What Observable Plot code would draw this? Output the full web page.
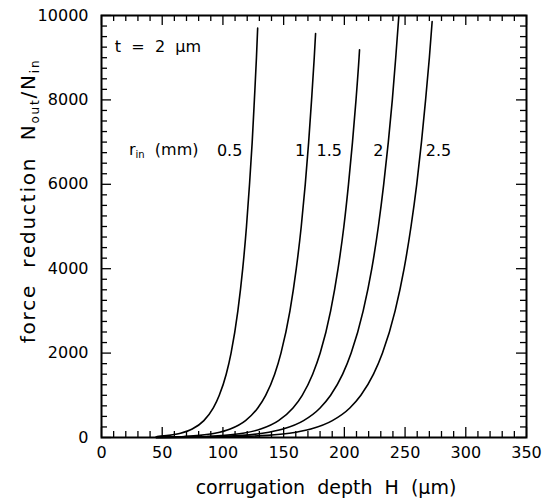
<!DOCTYPE html>
<html>
<head>
<meta charset="utf-8">
<script src="https://cdn.jsdelivr.net/npm/d3@7"></script>
<script src="https://cdn.jsdelivr.net/npm/@observablehq/plot@0.6"></script>
<style>
  body { margin: 0; background: #fff; }
  svg { font-family: "DejaVu Sans", sans-serif; }
</style>
</head>
<body>
<div id="chart"></div>
<script>
// Force reduction Nout/Nin vs corrugation depth H (µm), t = 2 µm, for r_in (mm)
const N_levels = [25, 50, 100, 200, 400, 700, 1000, 1500, 2000, 3000, 4000, 5000, 6000, 7000, 8000, 9000];

const H_05 = [45.8, 55.4, 65.1, 74.7, 84.3, 92.1, 97.0, 102.7, 106.7, 112.3, 116.3, 119.4, 121.9, 124.1, 125.9, 127.6, 128.6];
const N_05 = [25, 50, 100, 200, 400, 700, 1000, 1500, 2000, 3000, 4000, 5000, 6000, 7000, 8000, 9000, 9700];

const H_10 = [45, 51.5, 68.2, 80.8, 93.4, 106.0, 118.6, 128.7, 135.2, 142.6, 147.8, 155.2, 160.4, 164.5, 167.8, 170.6, 173.0, 175.2, 176.3];
const N_10 = [5, 10, 25, 50, 100, 200, 400, 700, 1000, 1500, 2000, 3000, 4000, 5000, 6000, 7000, 8000, 9000, 9573];

const H_15 = [45, 67.3, 86.8, 101.6, 116.3, 131.1, 145.8, 157.7, 165.3, 173.9, 180.1, 188.7, 194.8, 199.6, 203.4, 206.7, 209.6, 212.1, 212.5];
const N_15 = [3, 10, 25, 50, 100, 200, 400, 700, 1000, 1500, 2000, 3000, 4000, 5000, 6000, 7000, 8000, 9000, 9187];

const H_20 = [45, 76.4, 98.8, 115.7, 132.6, 149.5, 166.4, 180.0, 188.7, 198.6, 205.6, 215.5, 222.6, 228.0, 232.4, 236.2, 239.5, 242.3, 244.9];
const N_20 = [2, 10, 25, 50, 100, 200, 400, 700, 1000, 1500, 2000, 3000, 4000, 5000, 6000, 7000, 8000, 9000, 10000];

const H_25 = [45, 95.5, 119.0, 136.8, 154.6, 172.4, 190.1, 204.5, 213.6, 224.0, 231.4, 241.8, 249.2, 254.9, 259.6, 263.5, 266.9, 270.0, 272.3];
const N_25 = [1, 10, 25, 50, 100, 200, 400, 700, 1000, 1500, 2000, 3000, 4000, 5000, 6000, 7000, 8000, 9000, 9858];

const seriesNames = ["0.5", "1", "1.5", "2", "2.5"];
const seriesH = [H_05, H_10, H_15, H_20, H_25];
const seriesN = [N_05, N_10, N_15, N_20, N_25];

// Curve labels (r_in in mm)
const labelH = [105.5, 163.5, 187.5, 228, 277.5];
const labelN = 6800;

// Axis ticks
const xTicks = [0, 50, 100, 150, 200, 250, 300, 350];
const yTicks = [0, 2000, 4000, 6000, 8000, 10000];
const xMinor = d3.range(0, 351, 10);
const yMinor = d3.range(0, 10001, 250);

const rows = [];
seriesNames.forEach((name, i) => {
  seriesH[i].forEach((h, j) => rows.push({ r: name, H: h, N: seriesN[i][j] }));
});
const labelRows = seriesNames.map((name, i) => ({ r: name, H: labelH[i], N: labelN }));

const W = 549, HT = 500;
const mL = 101, mR = 23, mT = 15, mB = 63;
const fw = W - mL - mR, fh = HT - mT - mB;
// tick lengths converted to data units
const xu = 350 / fw, yu = 10000 / fh;
const minorLen = 6, majorLen = 10;

const xMaj = xMinor.filter(d => d % 50 === 0);
const xMin = xMinor.filter(d => d % 50 !== 0);
const yMaj = yMinor.filter(d => d % 2000 === 0);
const yMin = yMinor.filter(d => d % 2000 !== 0);

const tickStyle = { stroke: "#000", strokeWidth: 1.3 };

const plot = Plot.plot({
  width: W,
  height: HT,
  marginLeft: mL,
  marginRight: mR,
  marginTop: mT,
  marginBottom: mB,
  style: { fontFamily: "DejaVu Sans, sans-serif", background: "#fff", color: "#000" },
  x: { domain: [0, 350], label: null },
  y: { domain: [0, 10000], label: null },
  marks: [
    Plot.axisX({ ticks: xTicks, tickSize: 0, tickPadding: 9, fontSize: 16, label: null, tickFormat: d => String(d) }),
    Plot.axisY({ ticks: yTicks, tickSize: 0, tickPadding: 13, fontSize: 16, label: null, tickFormat: d => String(d) }),
    // bottom ticks
    Plot.ruleX(xMin, { x: d => d, y1: 0, y2: minorLen * yu, ...tickStyle }),
    Plot.ruleX(xMaj, { x: d => d, y1: 0, y2: majorLen * yu, ...tickStyle }),
    // top ticks
    Plot.ruleX(xMin, { x: d => d, y1: 10000, y2: 10000 - minorLen * yu, ...tickStyle }),
    Plot.ruleX(xMaj, { x: d => d, y1: 10000, y2: 10000 - majorLen * yu, ...tickStyle }),
    // left ticks
    Plot.ruleY(yMin, { y: d => d, x1: 0, x2: minorLen * xu, ...tickStyle }),
    Plot.ruleY(yMaj, { y: d => d, x1: 0, x2: majorLen * xu, ...tickStyle }),
    // right ticks
    Plot.ruleY(yMin, { y: d => d, x1: 350, x2: 350 - minorLen * xu, ...tickStyle }),
    Plot.ruleY(yMaj, { y: d => d, x1: 350, x2: 350 - majorLen * xu, ...tickStyle }),
    Plot.frame({ stroke: "#000", strokeWidth: 2 }),
    Plot.line(rows, { x: "H", y: "N", z: "r", curve: "monotone-x", stroke: "#000", strokeWidth: 1.6 }),
    Plot.text(labelRows, { x: "H", y: "N", text: "r", fontSize: 16, fill: "#000" }),
    Plot.text(["t  =  2  μm"], { x: 11, y: 9250, text: d => d, textAnchor: "start", fontSize: 16, fill: "#000" })
  ]
});

document.getElementById("chart").appendChild(plot);

const svg = d3.select(plot);
const xs = plot.scale("x"), ys = plot.scale("y");

// r_in (mm) label with subscript
const rt = svg.append("text")
  .attr("x", xs.apply(23))
  .attr("y", ys.apply(labelN))
  .attr("dy", "0.32em")
  .attr("text-anchor", "start")
  .attr("font-size", 16)
  .attr("fill", "#000")
  .attr("xml:space", "preserve");
rt.append("tspan").text("r");
rt.append("tspan").attr("font-size", 10).attr("dy", 3).text("in");
rt.append("tspan").attr("dy", -3).text("  (mm)");

// x axis label
svg.append("text")
  .attr("x", 326)
  .attr("y", 494)
  .attr("text-anchor", "middle")
  .attr("font-size", 19)
  .attr("fill", "#000")
  .attr("xml:space", "preserve")
  .text("corrugation  depth  H  (μm)");

// y axis label with subscripts
const yl = svg.append("text")
  .attr("transform", "translate(35,201) rotate(-90)")
  .attr("text-anchor", "middle")
  .attr("font-size", 20)
  .attr("letter-spacing", 1.8)
  .attr("fill", "#000")
  .attr("xml:space", "preserve");
yl.append("tspan").text("force  reduction  N");
yl.append("tspan").attr("font-size", 12).attr("dy", 4).text("out");
yl.append("tspan").attr("dy", -4).text("/N");
yl.append("tspan").attr("font-size", 12).attr("dy", 4).text("in");
</script>
</body>
</html>
